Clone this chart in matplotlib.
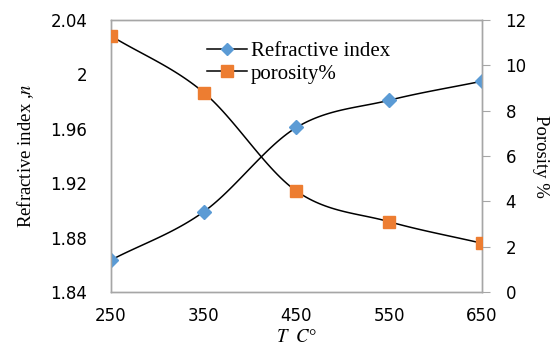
import numpy as np
import matplotlib.pyplot as plt
from matplotlib.lines import Line2D

plt.rcParams['mathtext.fontset'] = 'stix'

# data
temp = [250, 350, 450, 550, 650]
refr = [1.8635, 1.899, 1.961, 1.981, 1.995]
poro = [11.3, 8.8, 4.45, 3.1, 2.15]


def smooth(x, y, n=30):
    # catmull-rom curve through the points (like excel "smoothed line")
    x = np.asarray(x, float)
    y = np.asarray(y, float)
    px = np.concatenate([[2 * x[0] - x[1]], x, [2 * x[-1] - x[-2]]])
    py = np.concatenate([[2 * y[0] - y[1]], y, [2 * y[-1] - y[-2]]])
    xs, ys = [], []
    t = np.linspace(0, 1, n)
    for i in range(1, len(px) - 2):
        for p, out in ((px, xs), (py, ys)):
            p0, p1, p2, p3 = p[i - 1], p[i], p[i + 1], p[i + 2]
            out.extend(0.5 * (2 * p1 + (-p0 + p2) * t
                              + (2 * p0 - 5 * p1 + 4 * p2 - p3) * t ** 2
                              + (-p0 + 3 * p1 - 3 * p2 + p3) * t ** 3))
    return xs, ys


blue = '#5B9BD5'
orange = '#ED7D31'
grey = '#A6A6A6'
serif = 'Liberation Serif'

fig = plt.figure(figsize=(5.53, 3.47), dpi=100)
ax = fig.add_axes([0.2007, 0.1585, 0.6709, 0.7839])
ax2 = ax.twinx()

sx, sy = smooth(temp, refr)
ax.plot(sx, sy, color='black', lw=1.1, zorder=2)
ax.plot(temp, refr, ls='none', marker='D', ms=7.5, color=blue, zorder=3)

sx, sy = smooth(temp, poro)
ax2.plot(sx, sy, color='black', lw=1.1, zorder=2)
ax2.plot(temp, poro, ls='none', marker='s', ms=9, color=orange, zorder=3)

ax.set_xlim(250, 650)
ax.set_ylim(1.84, 2.04)
ax2.set_ylim(0, 12)
ax.set_xticks(temp)
ax.set_yticks([1.84, 1.88, 1.92, 1.96, 2.0, 2.04])
ax.set_yticklabels(['1.84', '1.88', '1.92', '1.96', '2', '2.04'])
ax2.set_yticks(range(0, 13, 2))

for a in (ax, ax2):
    for s in a.spines.values():
        s.set_color(grey)
        s.set_linewidth(1)
ax.tick_params(axis='y', length=0, labelsize=12, pad=17)
ax.tick_params(axis='x', length=0, labelsize=12, pad=11)
ax2.tick_params(axis='y', length=6, color=grey, labelsize=12, pad=11)

ax.set_ylabel('Refractive index ,$n$', family=serif, fontsize=13.5, labelpad=10)
ax2.set_ylabel('Porosity %', family=serif, fontsize=13.5, rotation=-90, labelpad=16)
ax.set_xlabel('$T$  $C$°', family=serif, fontsize=13.5, labelpad=3)

handles = [
    Line2D([], [], color='black', lw=1.1, marker='D', ms=6.5, mfc=blue, mec=blue),
    Line2D([], [], color='black', lw=1.1, marker='s', ms=8, mfc=orange, mec=orange),
]
ax.legend(handles, ['Refractive index', 'porosity%'], loc='upper left',
          bbox_to_anchor=(0.22, 0.975), frameon=False,
          prop={'family': serif, 'size': 15}, handlelength=1.9,
          handletextpad=0.2, labelspacing=0.15, borderpad=0.2)

fig.savefig('out.png', dpi=100)
